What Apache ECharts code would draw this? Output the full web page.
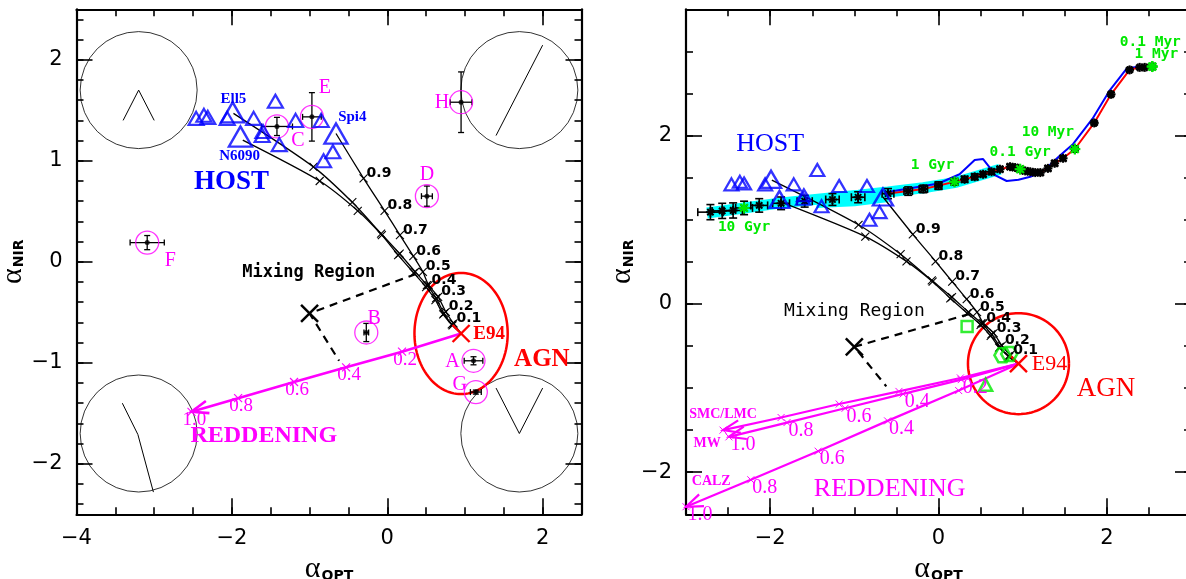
<!DOCTYPE html>
<html>
<head>
<meta charset="utf-8">
<title>alpha OPT vs alpha NIR</title>
<script src="https://cdn.jsdelivr.net/npm/echarts@6/dist/echarts.min.js"></script>
<style>
  html, body { margin: 0; padding: 0; background: #fff; }
  #main { width: 1186px; height: 579px; }
</style>
</head>
<body>
<div id="main"></div>
<script>
// host galaxy templates (blue triangles), same in both panels
const hostSmallX = [-2.46, -2.36, -2.31, -2.06, -1.72, -1.44, -1.61, -1.60, -1.39, -1.18, -0.85, -0.82, -0.70]
const hostSmallY = [1.42, 1.45, 1.43, 1.42, 1.42, 1.59, 1.25, 1.29, 1.16, 1.40, 1.40, 1.00, 1.09]
const hostLargeX = [-1.99, -1.89, -0.66]
const hostLargeY = [1.48, 1.24, 1.27]
const hostNames = ['Ell5', 'N6090', 'Spi4']

// quasar template E94 and the AGN region around it
const e94 = [0.95, -0.71]
const agnRadius = 0.6

// host + E94 mixing tracks, marks at AGN fraction 0.9 ... 0.1
const mixFractions = ['0.9', '0.8', '0.7', '0.6', '0.5', '0.4', '0.3', '0.2', '0.1']
const mixEll5X = [-1.98, -0.95, -0.45, -0.08, 0.16, 0.36, 0.51, 0.63, 0.73, 0.83, 0.95]
const mixEll5Y = [1.47, 0.94, 0.59, 0.28, 0.08, -0.10, -0.23, -0.36, -0.51, -0.62, -0.71]
const mixN6090X = [-1.86, -0.87, -0.38, -0.07, 0.14, 0.34, 0.50, 0.62, 0.72, 0.84, 0.95]
const mixN6090Y = [1.205, 0.80, 0.505, 0.264, 0.066, -0.11, -0.25, -0.38, -0.52, -0.63, -0.71]
const mixSpi4X = [-0.66, -0.305, -0.035, 0.163, 0.335, 0.458, 0.532, 0.655, 0.753, 0.852, 0.95]
const mixSpi4Y = [1.27, 0.826, 0.505, 0.264, 0.056, -0.099, -0.23, -0.347, -0.495, -0.61, -0.71]

// mixing region wedge
const mixEdgeX = [0.37, -1.0, -0.62]
const mixEdgeY = [-0.12, -0.51, -0.98]

// observed objects (left panel)
const objNames = ['A', 'B', 'C', 'D', 'E', 'F', 'G', 'H']
const objX = [1.11, -0.27, -1.42, 0.51, -0.97, -3.09, 1.14, 0.95]
const objY = [-0.98, -0.70, 1.34, 0.65, 1.435, 0.19, -1.29, 1.58]
const objXErr = [0.12, 0.03, 0.20, 0.07, 0.12, 0.22, 0.07, 0.14]
const objYErr = [0.04, 0.09, 0.09, 0.10, 0.24, 0.07, 0.02, 0.30]

// reddening of E94, steps in E(B-V)
const redSteps = ['0.2', '0.4', '0.6', '0.8', '1.0']
const redX = [0.95, 0.19, -0.53, -1.20, -1.92, -2.52]
const redY = [-0.71, -0.89, -1.045, -1.19, -1.35, -1.485]
const smcX = [0.95, 0.26, -0.47, -1.18, -1.87, -2.56]
const smcY = [-0.71, -0.88, -1.04, -1.19, -1.35, -1.50]
const mwX = [0.95, 0.27, -0.42, -1.11, -1.80, -2.49]
const mwY = [-0.71, -0.90, -1.07, -1.24, -1.41, -1.58]
const calzX = [0.95, 0.24, -0.605, -1.43, -2.23, -3.0]
const calzY = [-0.71, -1.03, -1.39, -1.75, -2.09, -2.41]

// stellar population age track (right panel)
const trackX = [-2.71, -2.57, -2.44, -2.31, -2.13, -1.87, -1.59, -1.26, -0.955, -0.60, -0.36, -0.18, 0.0, 0.19, 0.31, 0.43, 0.53, 0.63, 0.73, 0.85, 0.91, 0.97, 1.03, 1.09, 1.15, 1.21, 1.30, 1.38, 1.48, 1.62, 1.85, 2.05, 2.27, 2.39, 2.45, 2.54]
const trackY = [1.09, 1.105, 1.11, 1.14, 1.17, 1.195, 1.22, 1.24, 1.267, 1.31, 1.34, 1.366, 1.405, 1.45, 1.48, 1.51, 1.54, 1.57, 1.60, 1.63, 1.62, 1.60, 1.58, 1.57, 1.56, 1.56, 1.61, 1.67, 1.73, 1.84, 2.15, 2.49, 2.78, 2.81, 2.81, 2.82]
const trackXErr = [0.15, 0.12, 0.11, 0.10, 0.10, 0.10, 0.09, 0.08, 0.08, 0.07, 0.05, 0.05, 0.04, 0.04, 0.035, 0.035, 0.03, 0.03, 0.03, 0.03, 0.03, 0.03, 0.03, 0.03, 0.03, 0.03, 0.03, 0.03, 0.03, 0.02, 0.02, 0.02, 0.02, 0.02, 0.02, 0.02]
const trackYErr = [0.09, 0.09, 0.09, 0.08, 0.08, 0.075, 0.07, 0.07, 0.065, 0.06, 0.05, 0.045, 0.045, 0.04, 0.035, 0.035, 0.03, 0.03, 0.03, 0.03, 0.03, 0.03, 0.03, 0.03, 0.03, 0.03, 0.03, 0.03, 0.03, 0.02, 0.02, 0.02, 0.02, 0.02, 0.02, 0.02]
const ageNames = ['10 Gyr', '1 Gyr', '0.1 Gyr', '10 Myr', '1 Myr', '0.1 Myr']
const ageX = [-2.31, 0.19, 0.97, 1.62, 2.54, 2.54]
const ageY = [1.14, 1.45, 1.60, 1.84, 2.82, 2.82]
const blueTrackX = [-0.60, 0.0, 0.25, 0.43, 0.53, 0.60, 0.67, 0.81, 0.95, 1.09, 1.21, 1.30, 1.45, 1.60, 1.83, 2.03, 2.24, 2.40]
const blueTrackY = [1.33, 1.43, 1.54, 1.71, 1.72, 1.63, 1.53, 1.46, 1.475, 1.51, 1.56, 1.63, 1.77, 1.90, 2.20, 2.53, 2.80, 2.82]
const cyanX = [-2.75, -2.31, -1.87, -1.26, -0.95, -0.60, -0.18, 0.19, 0.53, 0.73]
const cyanY = [1.08, 1.14, 1.20, 1.26, 1.29, 1.33, 1.38, 1.44, 1.54, 1.60]
const cyan2X = [-1.45, -1.0, -0.60]
const cyan2Y = [1.20, 1.22, 1.27]

// other templates (green)
const greenSquare = [[0.34, -0.27]]
const greenHexX = [0.76, 0.84]
const greenHexY = [-0.61, -0.595]
const greenTriangle = [[0.56, -0.96]]

// corner insets of the left panel
const insetX = [-3.2, 1.7, -3.2, 1.7]
const insetY = [1.7, 1.7, -1.7, -1.7]
const insetTL = [[-3.40, 1.40], [-3.20, 1.70], [-3.0, 1.40]]
const insetTR = [[1.40, 1.25], [2.0, 2.145]]
const insetBL = [[-3.41, -1.40], [-3.21, -1.71], [-3.01, -2.28]]
const insetBR = [[1.40, -1.25], [1.70, -1.70], [2.0, -1.25]]

const MAG = '#ff00ff', BLUE = '#0000ff', RED = '#ff0000', GREEN = '#00e800', CYAN = '#00ffff'
const SERIF = 'Liberation Serif', SANS = 'DejaVu Sans', MONO = 'DejaVu Sans Mono'

function pairs (xs, ys) { return xs.map((x, i) => [x, ys[i]]) }
function onPanel (p, s, z) { s.xAxisIndex = 4 * p; s.yAxisIndex = 4 * p; s.silent = true; s.z = z; return s }

function lineSeries (p, pts, color, width, extra, z) {
  return onPanel(p, Object.assign({ type: 'line', data: pts, symbol: 'none', lineStyle: { color: color, width: width } }, extra || {}), z || 2)
}

function segment (x1, y1, x2, y2, color, width) {
  return { type: 'line', shape: { x1: x1, y1: y1, x2: x2, y2: y2 }, style: { stroke: color, lineWidth: width } }
}

// 'x' crosses or '*' asterisks drawn at data points
function markSeries (p, pts, shape, size, color, width) {
  return onPanel(p, {
    type: 'custom', data: pts, clip: false,
    renderItem (params, api) {
      const c = api.coord([api.value(0), api.value(1)])
      const h = size / 2
      const s = (dx, dy) => segment(c[0] - dx, c[1] - dy, c[0] + dx, c[1] + dy, color, width)
      const kids = shape === 'x' ? [s(h, h), s(h, -h)] : [s(h * 0.7, h * 0.7), s(h * 0.7, -h * 0.7), s(h, 0), s(0, h)]
      return { type: 'group', children: kids }
    }
  }, 4)
}

function errorSeries (p, xs, ys, xe, ye, color, width, cap) {
  return onPanel(p, {
    type: 'custom', clip: false,
    data: xs.map((x, i) => [x, ys[i], xe[i], ye[i]]),
    renderItem (params, api) {
      const x = api.value(0), y = api.value(1), dx = api.value(2), dy = api.value(3)
      const l = api.coord([x - dx, y]), r = api.coord([x + dx, y])
      const t = api.coord([x, y + dy]), b = api.coord([x, y - dy])
      return {
        type: 'group',
        children: [
          segment(l[0], l[1], r[0], r[1], color, width),
          segment(t[0], t[1], b[0], b[1], color, width),
          segment(l[0], l[1] - cap, l[0], l[1] + cap, color, width),
          segment(r[0], r[1] - cap, r[0], r[1] + cap, color, width),
          segment(t[0] - cap, t[1], t[0] + cap, t[1], color, width),
          segment(b[0] - cap, b[1], b[0] + cap, b[1], color, width)
        ]
      }
    }
  }, 4)
}

// circle of given radius in data units (an ellipse on screen when scales differ)
function ringSeries (p, center, r, color, width) {
  return onPanel(p, {
    type: 'custom', clip: false, data: [[center[0], center[1], r]],
    renderItem (params, api) {
      const cx = api.value(0), cy = api.value(1), rr = api.value(2)
      const c = api.coord([cx, cy])
      const ex = api.coord([cx + rr, cy])[0] - c[0]
      const ey = c[1] - api.coord([cx, cy + rr])[1]
      const points = []
      for (let k = 0; k <= 120; k++) {
        const a = k / 120 * 2 * Math.PI
        points.push([c[0] + ex * Math.cos(a), c[1] + ey * Math.sin(a)])
      }
      return { type: 'polyline', shape: { points: points }, style: { stroke: color, lineWidth: width, fill: null } }
    }
  }, 3)
}

// open arrow head at the end of a vector
function arrowHead (p, xs, ys, color, width) {
  const n = xs.length - 1
  return onPanel(p, {
    type: 'custom', clip: false, data: [[xs[n - 1], ys[n - 1], xs[n], ys[n]]],
    renderItem (params, api) {
      const a = api.coord([api.value(0), api.value(1)]), b = api.coord([api.value(2), api.value(3)])
      const ang = Math.atan2(b[1] - a[1], b[0] - a[0])
      const L = 18, w = 0.36
      const p1 = [b[0] - L * Math.cos(ang - w), b[1] - L * Math.sin(ang - w)]
      const p2 = [b[0] - L * Math.cos(ang + w), b[1] - L * Math.sin(ang + w)]
      return { type: 'polyline', shape: { points: [p1, b, p2] }, style: { stroke: color, lineWidth: width, fill: null } }
    }
  }, 3)
}

// text anchored at data coordinates
function textSeries (p, items) {
  return onPanel(p, {
    type: 'custom', clip: false,
    data: items.map(it => [it.x, it.y]),
    renderItem (params, api) {
      const it = items[params.dataIndex]
      const c = api.coord([api.value(0), api.value(1)])
      return {
        type: 'text', x: c[0] + (it.dx || 0), y: c[1] + (it.dy || 0),
        style: { text: it.t, font: it.font, fill: it.color, align: it.align || 'center', verticalAlign: 'middle' }
      }
    }
  }, 6)
}

function hollow (color, width) { return { color: 'rgba(0,0,0,0)', borderColor: color, borderWidth: width } }

function mixingLayer (p) {
  const out = []
  const curves = [[mixEll5X, mixEll5Y], [mixN6090X, mixN6090Y], [mixSpi4X, mixSpi4Y]]
  curves.forEach(cv => {
    const pts = pairs(cv[0], cv[1])
    out.push(lineSeries(p, pts, '#000', 1.3, { smooth: 0.25 }, 3))
    out.push(markSeries(p, pts.slice(1, 10), 'x', 8, '#000', 1.1))
  })
  out.push(textSeries(p, mixFractions.map((t, i) => ({
    t: t, x: mixSpi4X[i + 1], y: mixSpi4Y[i + 1], dx: 3, dy: -5, align: 'left',
    font: 'bold 14px ' + SANS, color: '#000'
  }))))
  out.push(onPanel(p, { type: 'scatter', data: pairs(hostSmallX, hostSmallY), symbol: 'triangle', symbolSize: p === 0 ? [15, 13] : [14, 12], itemStyle: hollow(BLUE, 2.2) }, 5))
  out.push(onPanel(p, { type: 'scatter', data: pairs(hostLargeX, hostLargeY), symbol: 'triangle', symbolSize: p === 0 ? [23, 20] : [20, 17], itemStyle: hollow(BLUE, 2.4) }, 5))
  out.push(lineSeries(p, pairs(mixEdgeX, mixEdgeY), '#000', 2.2, { lineStyle: { color: '#000', width: 2.2, type: [8, 6] } }, 3))
  out.push(markSeries(p, [[mixEdgeX[1], mixEdgeY[1]]], 'x', 17, '#000', 2.5))
  out.push(ringSeries(p, e94, agnRadius, RED, 2.5))
  out.push(markSeries(p, [e94], 'x', 17, RED, 2.4))
  return out
}

const series = []

// ---------------- left panel ----------------
series.push(onPanel(0, { type: 'scatter', data: pairs(insetX, insetY), symbol: 'circle', symbolSize: 117, itemStyle: hollow('#000', 1) }, 1))
;[insetTL, insetTR, insetBL, insetBR].forEach(l => series.push(lineSeries(0, l, '#000', 1, null, 1)))
mixingLayer(0).forEach(s => series.push(s))
series.push(onPanel(0, { type: 'scatter', data: pairs(objX, objY), symbol: 'circle', symbolSize: 23, itemStyle: hollow(MAG, 1.3) }, 4))
series.push(errorSeries(0, objX, objY, objXErr, objYErr, '#000', 1.3, 3))
series.push(onPanel(0, { type: 'scatter', data: pairs(objX, objY), symbol: 'circle', symbolSize: 5, itemStyle: { color: '#000' } }, 5))
const objLabelOffset = [[-21, 1], [8, -14], [21, 14], [0, -21], [13, -29], [23, 18], [-16, -7], [-19, 1]]
series.push(textSeries(0, objNames.map((t, i) => ({
  t: t, x: objX[i], y: objY[i], dx: objLabelOffset[i][0], dy: objLabelOffset[i][1], font: '20px ' + SERIF, color: MAG
}))))
series.push(lineSeries(0, pairs(redX, redY), MAG, 2.6, null, 3))
series.push(arrowHead(0, redX, redY, MAG, 2.6))
series.push(markSeries(0, pairs(redX, redY).slice(1), 'x', 8, MAG, 1.1))
series.push(textSeries(0, redSteps.map((t, i) => ({
  t: t, x: redX[i + 1], y: redY[i + 1], dx: 3, dy: 8, font: '19px ' + SERIF, color: MAG
}))))
series.push(textSeries(0, [
  { t: 'HOST', x: -2.005, y: 0.79, font: 'bold 27px ' + SERIF, color: BLUE },
  { t: hostNames[0], x: -1.98, y: 1.61, font: 'bold 15px ' + SERIF, color: BLUE },
  { t: hostNames[1], x: -1.90, y: 1.05, font: 'bold 15px ' + SERIF, color: BLUE },
  { t: hostNames[2], x: -0.45, y: 1.435, font: 'bold 15px ' + SERIF, color: BLUE },
  { t: 'Mixing Region', x: -1.01, y: -0.11, font: 'bold 17px ' + MONO, color: '#000' },
  { t: 'REDDENING', x: -1.59, y: -1.72, font: 'bold 24px ' + SERIF, color: MAG },
  { t: 'AGN', x: 1.99, y: -0.97, font: 'bold 25px ' + SERIF, color: RED },
  { t: 'E94', x: e94[0], y: e94[1], dx: 28, dy: 1, font: 'bold 19px ' + SERIF, color: RED }
]))

// ---------------- right panel ----------------
series.push(lineSeries(1, pairs(cyanX, cyanY), CYAN, 11, null, 1))
series.push(lineSeries(1, pairs(cyan2X, cyan2Y), CYAN, 10, null, 1))
series.push(lineSeries(1, pairs(blueTrackX, blueTrackY), BLUE, 2, null, 2))
series.push(lineSeries(1, pairs(trackX, trackY).slice(9), RED, 2, null, 2))
mixingLayer(1).forEach(s => series.push(s))
series.push(errorSeries(1, trackX, trackY, trackXErr, trackYErr, '#000', 1.6, 4))
series.push(markSeries(1, pairs(trackX, trackY), '*', 9, '#000', 2))
series.push(markSeries(1, pairs(ageX, ageY), '*', 11, GREEN, 2.2))
const ageLabelOffset = [[0, 19], [-22, -17], [0, -17], [-27, -17], [4, -12], [-2, -24]]
series.push(textSeries(1, ageNames.map((t, i) => ({
  t: t, x: ageX[i], y: ageY[i], dx: ageLabelOffset[i][0], dy: ageLabelOffset[i][1], font: 'bold 14.5px ' + MONO, color: GREEN
}))))
series.push(onPanel(1, { type: 'scatter', data: greenSquare, symbol: 'rect', symbolSize: 11, itemStyle: hollow(GREEN, 2.5) }, 5))
series.push(onPanel(1, { type: 'scatter', data: pairs(greenHexX, greenHexY), symbol: 'path://M5,0L15,0L20,8.66L15,17.32L5,17.32L0,8.66Z', symbolSize: [16, 14], itemStyle: hollow(GREEN, 2.5) }, 5))
series.push(onPanel(1, { type: 'scatter', data: greenTriangle, symbol: 'triangle', symbolSize: [13, 12], itemStyle: hollow(GREEN, 2.5) }, 5))
;[[smcX, smcY], [mwX, mwY], [calzX, calzY]].forEach(v => {
  series.push(lineSeries(1, pairs(v[0], v[1]), MAG, 2.2, null, 3))
  series.push(arrowHead(1, v[0], v[1], MAG, 2.2))
  series.push(markSeries(1, pairs(v[0], v[1]).slice(1), 'x', 7, MAG, 1))
})
series.push(textSeries(1, redSteps.map((t, i) => ({
  t: t, x: mwX[i + 1], y: mwY[i + 1], dx: 14, dy: 8, font: '20px ' + SERIF, color: MAG
})).concat(redSteps.slice(1).map((t, i) => ({
  t: t, x: calzX[i + 2], y: calzY[i + 2], dx: 14, dy: 8, font: '20px ' + SERIF, color: MAG
})))))
series.push(textSeries(1, [
  { t: 'HOST', x: -2.0, y: 1.90, font: '26px ' + SERIF, color: BLUE },
  { t: 'Mixing Region', x: -1.0, y: -0.09, font: '18px ' + MONO, color: '#000' },
  { t: 'REDDENING', x: -0.58, y: -2.20, font: '26px ' + SERIF, color: MAG },
  { t: 'AGN', x: 1.99, y: -1.01, font: '27px ' + SERIF, color: RED },
  { t: 'E94', x: e94[0], y: e94[1], dx: 31, dy: 1, font: '22px ' + SERIF, color: RED },
  { t: 'SMC/LMC', x: -2.56, y: -1.31, font: 'bold 14px ' + SERIF, color: MAG },
  { t: 'MW', x: -2.75, y: -1.66, font: 'bold 14px ' + SERIF, color: MAG },
  { t: 'CALZ', x: -2.70, y: -2.11, font: 'bold 14px ' + SERIF, color: MAG }
]))

// ---------------- axes ----------------
function fmtTick (v) { return v < 0 ? '\u2212' + (-v) : String(v) }

function axisTitle (sub) {
  return {
    name: '{a|\u03b1}{b|' + sub + '}',
    nameLocation: 'middle',
    nameTextStyle: {
      rich: {
        a: { fontFamily: SERIF, fontSize: 30, color: '#000' },
        b: { fontFamily: SANS, fontWeight: 'bold', fontSize: 14, color: '#000', padding: [14, 0, 0, 1] }
      }
    }
  }
}

// one side of a frame: a short-tick axis with the spine and a long-tick axis with labels
function sideAxes (p, pos, range, minor, major, every, title, gap) {
  const base = { type: 'value', gridIndex: p, position: pos, min: range[0], max: range[1], splitLine: { show: false }, axisLabel: { show: false } }
  const a = Object.assign({}, base, minor, {
    axisLine: { show: true, onZero: false, lineStyle: { color: '#000', width: 2.2 } },
    axisTick: { inside: true, length: 7, lineStyle: { color: '#000', width: 1.6 } }
  })
  const b = Object.assign({}, base, major, {
    axisLine: { show: false, onZero: false },
    axisTick: { inside: true, length: 16, lineStyle: { color: '#000', width: 1.6 } }
  })
  if (title) {
    b.axisLabel = {
      show: true, margin: 14, color: '#000', fontFamily: SANS, fontSize: 21,
      formatter: v => Math.abs(v / every - Math.round(v / every)) < 1e-6 ? fmtTick(Math.round(v * 100) / 100) : ''
    }
    Object.assign(b, axisTitle(title))
    b.nameGap = gap
    if (pos === 'left') b.nameRotate = 90
  }
  return [a, b]
}

const leftX = [-4, 2.5], leftY = [-2.5, 2.5], rightX = [-3, 3], rightY = [-2.5, 3.5]
const xAxes = [].concat(
  sideAxes(0, 'bottom', leftX, { interval: 0.5 }, { interval: 2 }, 2, 'OPT', 28),
  sideAxes(0, 'top', leftX, { interval: 0.5 }, { interval: 2 }, 2, null),
  sideAxes(1, 'bottom', rightX, { interval: 0.5 }, { splitNumber: 3 }, 2, 'OPT', 28),
  sideAxes(1, 'top', rightX, { interval: 0.5 }, { splitNumber: 3 }, 2, null)
)
const yAxes = [].concat(
  sideAxes(0, 'left', leftY, { splitNumber: 25 }, { splitNumber: 5 }, 1, 'NIR', 37),
  sideAxes(0, 'right', leftY, { splitNumber: 25 }, { splitNumber: 5 }, 1, null),
  sideAxes(1, 'left', rightY, { interval: 0.5 }, { splitNumber: 3 }, 2, 'NIR', 37),
  sideAxes(1, 'right', rightY, { interval: 0.5 }, { splitNumber: 3 }, 2, null)
)

const chart = echarts.init(document.getElementById('main'), null, { renderer: 'canvas' })
chart.setOption({
  animation: false,
  backgroundColor: '#fff',
  grid: [
    { left: 76.5, top: 9.3, width: 505, height: 505, containLabel: false, outerBoundsMode: 'none' },
    { left: 686, top: 9.3, width: 505, height: 505, containLabel: false, outerBoundsMode: 'none' }
  ],
  xAxis: xAxes,
  yAxis: yAxes,
  series: series
})
</script>
</body>
</html>
